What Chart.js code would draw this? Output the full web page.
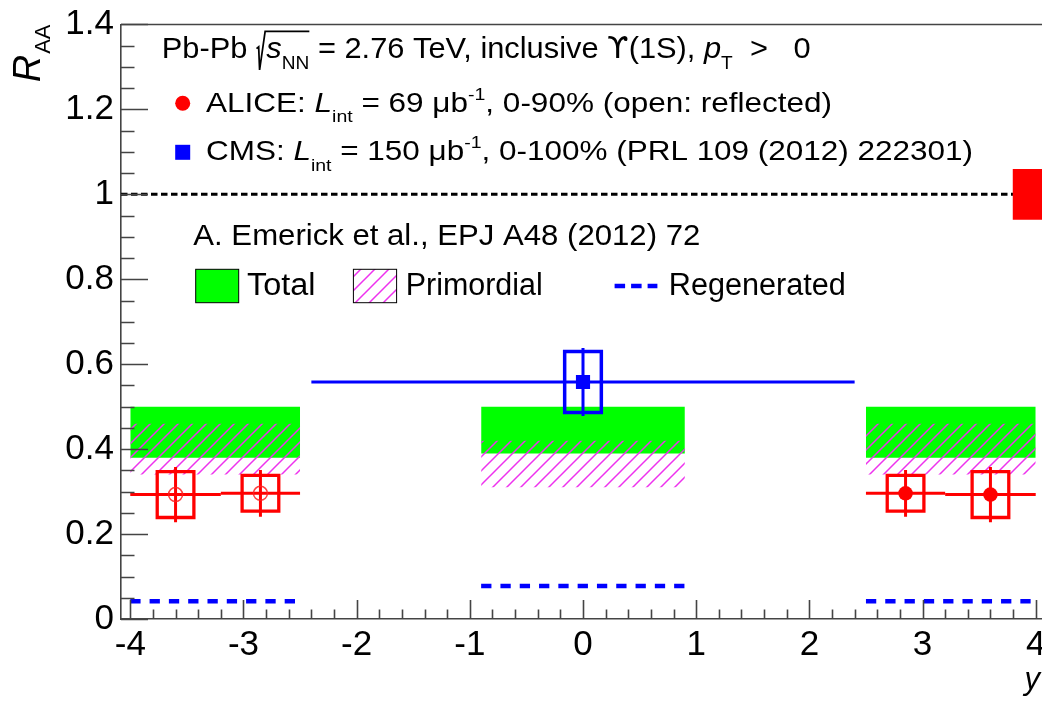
<!DOCTYPE html>
<html><head><meta charset="utf-8">
<script src="https://cdn.jsdelivr.net/npm/chart.js@4.4.0/dist/chart.umd.min.js"></script>
<style>
html,body{margin:0;padding:0;overflow:hidden;background:#fff;width:1042px;height:701px}
#wrap{position:relative;width:1100px;height:701px}
</style></head>
<body><div id="wrap"><canvas id="c" width="1100" height="701"></canvas></div>
<script>
const FONT = "'Liberation Sans', Arial, 'DejaVu Sans', sans-serif";
const SYM_FONT = "'DejaVu Sans', 'Liberation Sans', sans-serif";

// ---- axes ----
const X_RANGE = [-4.082, 4.082];
const Y_RANGE = [0, 1.4];
const X_TICKS = [-4, -3, -2, -1, 0, 1, 2, 3, 4];
const Y_TICKS = [0, 0.2, 0.4, 0.6, 0.8, 1.0, 1.2, 1.4];

// ---- model: A. Emerick et al. ----
const MODEL_Y_LO = [-4.0, -0.9, 2.5];
const MODEL_Y_HI = [-2.5, 0.9, 4.0];
const TOTAL_LO = [0.38, 0.39, 0.38];
const TOTAL_HI = [0.50, 0.50, 0.50];
const PRIM_LO = [0.34, 0.31, 0.34];
const PRIM_HI = [0.46, 0.42, 0.46];
const REGEN = [0.042, 0.078, 0.042];

// ---- ALICE ----
const ALICE_Y = [2.85, 3.6];
const ALICE_Y_LO = [2.5, 3.2];
const ALICE_Y_HI = [3.2, 4.0];
const ALICE_RAA = [0.296, 0.293];
const ALICE_STAT = [0.055, 0.065];
const ALICE_SYST = [0.042, 0.054];

// ---- CMS ----
const CMS_Y = [0.0];
const CMS_Y_LO = [-2.4];
const CMS_Y_HI = [2.4];
const CMS_RAA = [0.558];
const CMS_STAT = [0.08];
const CMS_SYST = [0.072];

// ---- reference line and global uncertainty ----
const REF_LEVEL = 1.0;
const GLOBAL_UNC = 0.06;

// ---- styles ----
const BOX_HW = 0.162;          // half width of systematic boxes (axis units)
const GLOBAL_BOX_X0 = 3.795;   // left edge of the global uncertainty box
const RED = '#ff0000', BLUE = '#0000ff', GREEN = '#00ff00';

function hatchPattern() {
  const c = document.createElement('canvas');
  c.width = 14; c.height = 14;
  const g = c.getContext('2d');
  g.strokeStyle = 'rgb(238,50,238)';
  g.lineWidth = 1.5;
  g.beginPath();
  g.moveTo(-7, 7); g.lineTo(7, -7);
  g.moveTo(0, 14); g.lineTo(14, 0);
  g.moveTo(7, 21); g.lineTo(21, 7);
  g.stroke();
  return document.getElementById('c').getContext('2d').createPattern(c, 'repeat');
}
const HATCH = hatchPattern();

const datasets = [];
function add(ds) {
  datasets.push(Object.assign({
    type: 'line', pointRadius: 0, pointHoverRadius: 0, borderWidth: 0,
    borderColor: 'transparent', backgroundColor: 'transparent', fill: false, tension: 0
  }, ds));
  return datasets.length - 1;
}
function seg(x0, y0, x1, y1, style) {
  return add(Object.assign({ data: [{x: x0, y: y0}, {x: x1, y: y1}] }, style || {}));
}
function band(x0, x1, lo, hi, color) {
  const t = seg(x0, hi, x1, hi);
  seg(x0, lo, x1, lo, { fill: { target: t }, backgroundColor: color });
}
function box(xc, yc, hw, hh, style) {
  return add(Object.assign({
    data: [{x: xc - hw, y: yc - hh}, {x: xc + hw, y: yc - hh}, {x: xc + hw, y: yc + hh},
           {x: xc - hw, y: yc + hh}, {x: xc - hw, y: yc - hh}, {x: xc + hw, y: yc - hh}],
    borderJoinStyle: 'miter'
  }, style));
}
function markers(pts, style) {
  return add(Object.assign({ data: pts, showLine: false }, style));
}

// reference line at 1
seg(X_RANGE[0], REF_LEVEL, X_RANGE[1], REF_LEVEL, { borderColor: '#000', borderWidth: 3, borderDash: [6.5, 3.5] });
// global uncertainty box
band(GLOBAL_BOX_X0, X_RANGE[1], REF_LEVEL - GLOBAL_UNC, REF_LEVEL + GLOBAL_UNC, RED);
// total
for (let i = 0; i < MODEL_Y_LO.length; i++) band(MODEL_Y_LO[i], MODEL_Y_HI[i], TOTAL_LO[i], TOTAL_HI[i], GREEN);
// primordial
for (let i = 0; i < MODEL_Y_LO.length; i++) band(MODEL_Y_LO[i], MODEL_Y_HI[i], PRIM_LO[i], PRIM_HI[i], HATCH);
// regenerated
for (let i = 0; i < MODEL_Y_LO.length; i++)
  seg(MODEL_Y_LO[i], REGEN[i], MODEL_Y_HI[i], REGEN[i], { borderColor: BLUE, borderWidth: 4.5, borderDash: [10.3, 9] });

// CMS
for (let i = 0; i < CMS_Y.length; i++) {
  seg(CMS_Y_LO[i], CMS_RAA[i], CMS_Y_HI[i], CMS_RAA[i], { borderColor: BLUE, borderWidth: 3 });
  box(CMS_Y[i], CMS_RAA[i], BOX_HW, CMS_SYST[i], { borderColor: BLUE, borderWidth: 3.5 });
  seg(CMS_Y[i], CMS_RAA[i] - CMS_STAT[i], CMS_Y[i], CMS_RAA[i] + CMS_STAT[i], { borderColor: BLUE, borderWidth: 3 });
}
markers(CMS_Y.map((x, i) => ({x, y: CMS_RAA[i]})), {
  pointStyle: 'rect', pointRadius: 10, pointBackgroundColor: BLUE, pointBorderColor: BLUE, pointBorderWidth: 0
});

// ALICE (measured and reflected)
for (const sgn of [-1, 1]) {
  for (let i = 0; i < ALICE_Y.length; i++) {
    const xc = sgn * ALICE_Y[i];
    const a = sgn * ALICE_Y_LO[i], b = sgn * ALICE_Y_HI[i];
    seg(Math.min(a, b), ALICE_RAA[i], Math.max(a, b), ALICE_RAA[i], { borderColor: RED, borderWidth: 3 });
    box(xc, ALICE_RAA[i], BOX_HW, ALICE_SYST[i], { borderColor: RED, borderWidth: 3.3 });
    seg(xc, ALICE_RAA[i] - ALICE_STAT[i], xc, ALICE_RAA[i] + ALICE_STAT[i], { borderColor: RED, borderWidth: 3 });
  }
}
markers(ALICE_Y.map((x, i) => ({x: -x, y: ALICE_RAA[i]})), {
  pointStyle: 'circle', pointRadius: 7, pointBackgroundColor: 'rgba(0,0,0,0)',
  pointBorderColor: 'rgba(255,30,30,0.85)', pointBorderWidth: 1.5
});
markers(ALICE_Y.map((x, i) => ({x, y: ALICE_RAA[i]})), {
  pointStyle: 'circle', pointRadius: 7.3, pointBackgroundColor: RED, pointBorderColor: RED, pointBorderWidth: 0
});

datasets.forEach((d, i) => { d.order = datasets.length - i; });

// ---- rich text helper ----
function fontOf(s, fs) {
  return (s.it ? 'italic ' : '') + fs + 'px ' + (s.sym ? SYM_FONT : FONT);
}
function drawRich(ctx, segs, x, base, size, targetW, color) {
  const items = []; let w = 0;
  for (const s of segs) {
    const fs = (s.sub || s.sup) ? size * 0.62 : size;
    if (s.rad) { items.push({s, x: w, fs}); w += size * 0.34; continue; }
    ctx.font = fontOf(s, fs);
    const sw = ctx.measureText(s.t).width;
    items.push({s, x: w, fs, w: sw}); w += sw;
  }
  const sx = targetW ? targetW / w : 1;
  ctx.save();
  ctx.translate(x, base); ctx.scale(sx, 1);
  ctx.fillStyle = color || '#000'; ctx.strokeStyle = color || '#000';
  ctx.textBaseline = 'alphabetic'; ctx.textAlign = 'left';
  let radX = null;
  for (const it of items) {
    const s = it.s;
    if (s.rad) { radX = it.x; continue; }
    ctx.font = fontOf(s, it.fs);
    const dy = s.sub ? size * 0.38 : (s.sup ? -size * 0.42 : 0);
    ctx.fillText(s.t, it.x, dy);
    if (s.radEnd && radX !== null) {
      ctx.lineWidth = 1.7; ctx.lineJoin = 'miter';
      ctx.beginPath();
      ctx.moveTo(radX + 0.02 * size, -0.30 * size);
      ctx.lineTo(radX + 0.09 * size, -0.36 * size);
      ctx.lineTo(radX + 0.12 * size, 0.41 * size);
      ctx.lineTo(radX + 0.30 * size, -0.88 * size);
      ctx.lineTo(it.x + it.w, -0.88 * size);
      ctx.stroke();
    }
  }
  ctx.restore();
}

const decor = {
  id: 'decor',
  afterDatasetsDraw(chart) {
    const {ctx, chartArea: a, scales: {x, y}} = chart;
    ctx.save();
    ctx.strokeStyle = '#444'; ctx.lineWidth = 1.6;
    ctx.beginPath(); ctx.moveTo(a.left, a.top); ctx.lineTo(a.right, a.top); ctx.stroke();
    ctx.beginPath();
    for (let k = 0; k <= 28; k++) {
      const p = Math.round(y.getPixelForValue(k * 0.05)) + 0.5;
      const len = (k % 4 === 0) ? 27 : 13.5;
      ctx.moveTo(a.left, p); ctx.lineTo(a.left + len, p);
    }
    for (let k = -20; k <= 20; k++) {
      const p = Math.round(x.getPixelForValue(k * 0.2)) + 0.5;
      const len = (k % 5 === 0) ? 19 : 9.5;
      ctx.moveTo(p, a.bottom); ctx.lineTo(p, a.bottom - len);
    }
    ctx.stroke();
    ctx.restore();
  },
  afterDraw(chart) {
    const ctx = chart.ctx;
    const top = chart.chartArea.top;
    ctx.save();
    // axis titles
    ctx.save();
    ctx.translate(40, top); ctx.rotate(-Math.PI / 2);
    ctx.fillStyle = '#000'; ctx.textBaseline = 'alphabetic';
    ctx.font = '22px ' + FONT; ctx.textAlign = 'right';
    ctx.fillText('AA', 0, 10);
    const wAA = ctx.measureText('AA').width;
    ctx.font = 'italic 38px ' + FONT;
    ctx.fillText('R', -wAA - 1, 0);
    ctx.restore();
    ctx.font = 'italic 31px ' + FONT; ctx.textAlign = 'right'; ctx.fillStyle = '#000';
    ctx.fillText('y', 1040, 689);

    // legend header
    drawRich(ctx, [{t: 'Pb-Pb '}, {rad: true}, {t: 's', it: true}, {t: 'NN', sub: true, radEnd: true},
      {t: ' = 2.76 TeV, inclusive '}, {t: 'ϒ', sym: true}, {t: '(1S), '}, {t: 'p', it: true}, {t: 'T', sub: true}, {t: '  >   0'}],
      161.7, 57.7, 30, 649);
    ctx.fillStyle = RED; ctx.beginPath(); ctx.arc(182.7, 103.3, 7.5, 0, Math.PI * 2); ctx.fill();
    drawRich(ctx, [{t: 'ALICE: '}, {t: 'L', it: true}, {t: 'int', sub: true}, {t: ' = 69 μb'}, {t: '-1', sup: true},
      {t: ', 0-90% (open: reflected)'}], 206, 111.7, 28, 626);
    ctx.fillStyle = BLUE; ctx.fillRect(175.2, 144.8, 15, 15);
    drawRich(ctx, [{t: 'CMS: '}, {t: 'L', it: true}, {t: 'int', sub: true}, {t: ' = 150 μb'}, {t: '-1', sup: true},
      {t: ', 0-100% (PRL 109 (2012) 222301)'}], 206, 160, 28, 767);
    drawRich(ctx, [{t: 'A. Emerick et al., EPJ A48 (2012) 72'}], 193.3, 245, 30, 507);
    // model legend
    ctx.lineWidth = 1; ctx.strokeStyle = '#000';
    ctx.fillStyle = GREEN; ctx.fillRect(195.7, 269.3, 43, 33.4); ctx.strokeRect(195.7, 269.3, 43, 33.4);
    drawRich(ctx, [{t: 'Total'}], 247, 295, 31, 68.5);
    ctx.fillStyle = '#fff'; ctx.fillRect(353.4, 269.3, 43.2, 33.4);
    ctx.fillStyle = HATCH; ctx.fillRect(353.4, 269.3, 43.2, 33.4);
    ctx.strokeRect(353.4, 269.3, 43.2, 33.4);
    drawRich(ctx, [{t: 'Primordial'}], 405.7, 295, 31, 137);
    ctx.strokeStyle = BLUE; ctx.lineWidth = 4.5; ctx.setLineDash([10.5, 6]);
    ctx.beginPath(); ctx.moveTo(614.6, 286); ctx.lineTo(657.4, 286); ctx.stroke();
    ctx.setLineDash([]);
    drawRich(ctx, [{t: 'Regenerated'}], 668.8, 295, 31, 177);
    ctx.restore();
  }
};

new Chart(document.getElementById('c'), {
  type: 'line',
  data: { datasets },
  options: {
    responsive: false, animation: false, events: [],
    layout: { padding: { top: 22, right: 55, left: 0, bottom: 0 } },
    plugins: { legend: { display: false }, tooltip: { enabled: false } },
    scales: {
      x: {
        type: 'linear', min: X_RANGE[0], max: X_RANGE[1],
        grid: { display: false, drawTicks: false, tickLength: 0 },
        border: { display: true, color: '#444', width: 1.6 },
        afterBuildTicks: s => { s.ticks = X_TICKS.map(v => ({value: v})); },
        afterFit: s => { s.height = 82; },
        ticks: { autoSkip: false, maxRotation: 0, padding: 9, color: '#000',
                 font: { family: FONT, size: 35, lineHeight: 1 }, callback: v => String(v) }
      },
      y: {
        type: 'linear', min: Y_RANGE[0], max: Y_RANGE[1],
        grid: { display: false, drawTicks: false, tickLength: 0 },
        border: { display: true, color: '#444', width: 1.6 },
        afterBuildTicks: s => { s.ticks = Y_TICKS.map(v => ({value: v})); },
        afterFit: s => { s.width = 121; },
        ticks: { autoSkip: false, padding: 7, color: '#000',
                 font: { family: FONT, size: 35, lineHeight: 1 }, callback: v => String(+(+v).toFixed(1)) }
      }
    }
  },
  plugins: [decor]
});
</script>
</body></html>
